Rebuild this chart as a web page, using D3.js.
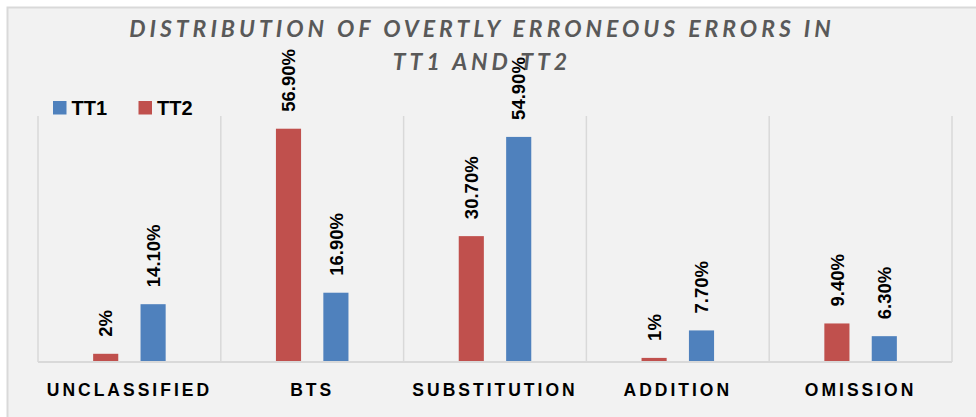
<!DOCTYPE html>
<html>
<head>
<meta charset="utf-8">
<script src="https://cdn.jsdelivr.net/npm/d3@7"></script>
<style>
  html, body { margin: 0; padding: 0; background: #fff; }
  svg { display: block; }
</style>
</head>
<body>
<svg id="chart" width="976" height="417"></svg>
<script>
// data
var categories = ["UNCLASSIFIED", "BTS", "SUBSTITUTION", "ADDITION", "OMISSION"];
var series = ["TT2", "TT1"];              // order of the bars inside a group
var legendOrder = ["TT1", "TT2"];
var tt1 = [14.1, 16.9, 54.9, 7.7, 6.3];
var tt2 = [2, 56.9, 30.7, 1, 9.4];
var tt1Labels = ["14.10%", "16.90%", "54.90%", "7.70%", "6.30%"];
var tt2Labels = ["2%", "56.90%", "30.70%", "1%", "9.40%"];
var titleLines = ["DISTRIBUTION OF OVERTLY ERRONEOUS ERRORS IN", "TT1 AND TT2"];

var colors = { TT1: "#4f81bd", TT2: "#c0504d" };
var gridColor = "#d9d9d9";

var svg = d3.select("#chart");
var W = 976, H = 417;
var plot = { left: 38, right: 952, top: 116, bottom: 362 };

// chart area background + frame
svg.append("rect").attr("width", W).attr("height", H).attr("fill", "#fff");
svg.append("rect")
  .attr("x", 7.5).attr("y", 7.5)
  .attr("width", W).attr("height", H)
  .attr("fill", "#f2f2f2")
  .attr("stroke", "#d9d9d9").attr("stroke-width", 2);

var x0 = d3.scaleBand().domain(categories).range([plot.left, plot.right]);
var bw = x0.bandwidth();
var x1 = d3.scaleBand().domain(series)
  .range([bw / 2 - 47.4, bw / 2 + 47.4])
  .paddingInner(0.47).paddingOuter(0.235);
var y = d3.scaleLinear().domain([0, 60]).range([plot.bottom, plot.top]);

var rows = categories.map(function(c, i){
  return { cat: c, values: [
    { key: "TT2", v: tt2[i], label: tt2Labels[i] },
    { key: "TT1", v: tt1[i], label: tt1Labels[i] }
  ]};
});

// vertical gridlines between categories
var bounds = categories.map(function(c){ return x0(c); }).concat([plot.right]);
svg.append("g").selectAll("line").data(bounds).enter().append("line")
  .attr("x1", function(d){ return d; }).attr("x2", function(d){ return d; })
  .attr("y1", plot.top).attr("y2", plot.bottom)
  .attr("stroke", gridColor).attr("stroke-width", 1.5);

// title
svg.append("g").selectAll("text").data(titleLines).enter().append("text")
  .attr("x", W / 2 - 6).attr("y", function(d, i){ return 37 + i * 33; })
  .attr("text-anchor", "middle")
  .attr("font-family", "Lato, 'Open Sans', sans-serif")
  .attr("font-weight", 700).attr("font-style", "italic")
  .attr("font-size", 23).attr("letter-spacing", 4)
  .attr("fill", "#595959")
  .text(function(d){ return d; });

// bars
var groups = svg.append("g").selectAll("g").data(rows).enter().append("g")
  .attr("transform", function(d){ return "translate(" + x0(d.cat) + ",0)"; });

groups.selectAll("rect").data(function(d){ return d.values; }).enter().append("rect")
  .attr("x", function(d){ return x1(d.key); })
  .attr("width", x1.bandwidth())
  .attr("y", function(d){ return y(d.v); })
  .attr("height", function(d){ return y(0) - y(d.v); })
  .attr("fill", function(d){ return colors[d.key]; });

// data labels, rotated
groups.selectAll("text").data(function(d){ return d.values; }).enter().append("text")
  .attr("transform", function(d){
    return "translate(" + (x1(d.key) + x1.bandwidth() / 2) + "," + (y(d.v) - 17) + ") rotate(-90)";
  })
  .attr("dy", "0.36em")
  .attr("font-family", "'Liberation Sans', Arial, sans-serif")
  .attr("font-weight", 700).attr("font-size", 18.5)
  .attr("fill", "#000")
  .text(function(d){ return d.label; });

// baseline
svg.append("line")
  .attr("x1", plot.left).attr("x2", plot.right)
  .attr("y1", y(0)).attr("y2", y(0))
  .attr("stroke", gridColor).attr("stroke-width", 2);

// category axis labels
var xAxis = d3.axisBottom(x0).tickSize(0).tickPadding(0);
var ax = svg.append("g").attr("transform", "translate(0," + y(0) + ")").call(xAxis);
ax.select(".domain").remove();
ax.selectAll("text")
  .attr("dy", 0).attr("y", 34)
  .attr("dx", 0)
  .attr("font-family", "'Liberation Sans', Arial, sans-serif")
  .attr("font-weight", 700).attr("font-size", 17.5)
  .attr("letter-spacing", 3)
  .attr("fill", "#000");

// legend
var legend = svg.append("g").selectAll("g").data(legendOrder).enter().append("g")
  .attr("transform", function(d, i){ return "translate(" + (53 + i * 85.5) + ",101)"; });
legend.append("rect").attr("width", 13.5).attr("height", 13.5)
  .attr("fill", function(d){ return colors[d]; });
legend.append("text")
  .attr("x", 18.5).attr("y", 14)
  .attr("font-family", "'Liberation Sans', Arial, sans-serif")
  .attr("font-weight", 700).attr("font-size", 20)
  .attr("fill", "#000")
  .text(function(d){ return d; });
</script>
</body>
</html>
